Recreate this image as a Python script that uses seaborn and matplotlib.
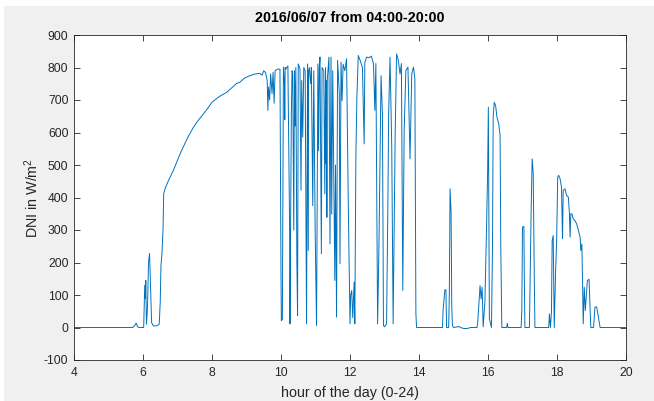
import matplotlib
matplotlib.use("Agg")
import matplotlib.pyplot as plt  # type: ignore
from matplotlib.patches import Rectangle  # type: ignore
import pandas as pd  # type: ignore
import seaborn as sns  # type: ignore

# hour of day (0-24)
hours = [
    4.00, 5.70, 5.76, 5.80, 5.84, 5.88, 6.02, 6.05, 6.07, 6.08, 6.10, 6.13, 6.16, 6.19,
    6.22, 6.25, 6.30, 6.40, 6.47, 6.50, 6.52, 6.55, 6.58, 6.60, 6.65, 6.75, 6.88, 7.00,
    7.12, 7.30, 7.46, 7.60, 7.75, 7.88, 8.00, 8.20, 8.43, 8.60, 8.70, 8.81, 8.95, 9.10,
    9.25, 9.39, 9.45, 9.50, 9.55, 9.60, 9.62, 9.64, 9.67, 9.70, 9.74, 9.77, 9.80, 9.83,
    9.90, 9.97,
    10.00, 10.01, 10.04, 10.06, 10.07, 10.10, 10.11, 10.12, 10.14, 10.20, 10.25, 10.26,
    10.30, 10.32, 10.34, 10.37, 10.39, 10.41, 10.43, 10.46, 10.48, 10.50, 10.55, 10.58,
    10.60, 10.63, 10.66, 10.70, 10.74, 10.77, 10.79, 10.80, 10.82, 10.86, 10.88, 10.92,
    10.95, 10.99, 11.03, 11.07, 11.09, 11.11, 11.13, 11.17, 11.19, 11.24, 11.27, 11.29,
    11.31, 11.32, 11.33, 11.34, 11.39, 11.42, 11.45, 11.47, 11.50, 11.56, 11.58, 11.61,
    11.64, 11.69, 11.71, 11.74, 11.77, 11.80, 11.85, 11.90, 11.95, 12.00, 12.02, 12.05,
    12.08, 12.12, 12.14, 12.17, 12.20, 12.24, 12.30, 12.36, 12.41, 12.43, 12.48, 12.55,
    12.62, 12.68, 12.72, 12.75, 12.80, 12.84, 12.90, 12.94, 12.97, 13.00, 13.06, 13.10,
    13.12, 13.16, 13.21, 13.25, 13.28, 13.31, 13.35, 13.40, 13.45, 13.49, 13.53, 13.57,
    13.62, 13.68, 13.74, 13.79, 13.84, 13.88, 13.91, 13.93,
    14.68, 14.70, 14.75, 14.78, 14.80, 14.86, 14.88, 14.90, 14.93, 14.95, 14.97, 15.00,
    15.17, 15.20, 15.30, 15.40, 15.50, 15.68, 15.70, 15.77, 15.80, 15.83, 15.86, 15.91,
    15.96, 15.99, 16.01, 16.04, 16.10, 16.13, 16.15, 16.18, 16.22, 16.26, 16.31, 16.35,
    16.37, 16.40, 16.54, 16.56, 16.58, 16.96, 16.98, 17.00, 17.04, 17.05, 17.07, 17.20,
    17.22, 17.25, 17.28, 17.31, 17.34, 17.36, 17.76, 17.78, 17.81, 17.84, 17.86, 17.89,
    17.92, 17.96, 17.99, 18.02, 18.05, 18.09, 18.13, 18.16, 18.18, 18.23, 18.28, 18.33,
    18.36, 18.38, 18.40, 18.43, 18.47, 18.52, 18.57, 18.62, 18.67, 18.69, 18.72, 18.74,
    18.76, 18.79, 18.82, 18.84, 18.88, 18.93, 18.96, 18.98, 19.06, 19.08, 19.10, 19.15,
    19.20, 19.25, 20.00,
]

# DNI in W/m^2
dni = [
    0, 0, 6, 14, 3, 0, 0, 130, 90, 145, 10, 60, 200, 228,
    120, 15, 5, 5, 10, 80, 190, 228, 300, 412, 430, 455, 483, 515,
    545, 585, 616, 637, 657, 675, 693, 710, 724, 740, 750, 755, 768, 775,
    780, 782, 776, 790, 785, 760, 668, 740, 700, 780, 720, 785, 690, 790,
    795, 795,
    160, 21, 25, 500, 801, 750, 640, 800, 795, 805, 300, 11,
    657, 790, 780, 300, 790, 620, 800, 200, 37, 811, 795, 422,
    760, 586, 800, 790, 11, 811, 237, 790, 800, 750, 800, 375,
    790, 300, 6, 811, 544, 800, 832, 227, 800, 790, 411, 800,
    503, 760, 339, 760, 832, 257, 832, 349, 790, 145, 500, 32,
    822, 719, 196, 817, 698, 810, 790, 827, 381, 11, 100, 114,
    30, 140, 11, 524, 709, 837, 820, 800, 565, 815, 832, 830,
    835, 812, 668, 812, 11, 257, 775, 657, 6, 2, 11, 400,
    657, 832, 555, 11, 300, 600, 842, 822, 780, 812, 114, 606,
    791, 801, 519, 781, 801, 765, 42, 0,
    0, 57, 116, 116, 0, 0, 109, 427, 355, 62, 5, 0,
    3, 0, -3, -3, 0, 0, 13, 129, 88, 124, 2, 78,
    319, 483, 678, 27, 0, 242, 647, 693, 683, 647, 627, 591,
    257, 0, 0, 13, 0, 0, 52, 309, 311, 181, 0, 0,
    134, 360, 519, 478, 170, 0, 0, 42, 0, 50, 268, 283,
    0, 175, 268, 463, 468, 457, 432, 273, 422, 427, 406, 401,
    350, 278, 350, 350, 334, 329, 319, 298, 278, 237, 257, 145,
    11, 124, 52, 83, 145, 148, 52, 0, 0, 32, 63, 63,
    32, 0, 0,
]

x_ticks = list(range(4, 21, 2))
y_ticks = list(range(-100, 901, 100))

df = pd.DataFrame({"hour": hours, "dni": dni})

sns.set_theme(style="white")
plt.rcParams["font.family"] = ["Liberation Sans", "DejaVu Sans"]
plt.rcParams["mathtext.default"] = "regular"
plt.rcParams["axes.unicode_minus"] = False

axis_col = "#262626"
fig = plt.figure(figsize=(6.54, 4.01), dpi=100, facecolor="#f0f0f0")
# white border of the screenshot (top and left)
fig.add_artist(Rectangle((0, 1 - 6 / 401), 1, 6 / 401, transform=fig.transFigure,
                         facecolor="white", edgecolor="none", zorder=0))
fig.add_artist(Rectangle((0, 0), 4 / 654, 1, transform=fig.transFigure,
                         facecolor="white", edgecolor="none", zorder=0))

ax = fig.add_axes([74 / 654, 1 - 360 / 401, 552 / 654, 325 / 401])
ax.set_facecolor("white")

sns.lineplot(data=df, x="hour", y="dni", ax=ax, color="#0072BD", linewidth=0.7,
             sort=False, estimator=None)

ax.set_xlim(4, 20)
ax.set_ylim(-100, 900)
ax.set_xticks(x_ticks)
ax.set_yticks(y_ticks)
ax.tick_params(direction="in", length=4, width=0.6, colors=axis_col, labelsize=8.7,
               top=True, right=True, bottom=True, left=True, pad=4)
ax.tick_params(axis="x", pad=5)
for side in ax.spines.values():
    side.set_color(axis_col)
    side.set_linewidth(0.6)

ax.set_title("2016/06/07 from 04:00-20:00", fontsize=10.3, fontweight="bold",
             color="black", pad=9)
ax.set_xlabel("hour of the day (0-24)", fontsize=10.3, color=axis_col, labelpad=5)
ax.set_ylabel("DNI in W/m$^2$", fontsize=10.3, color=axis_col, labelpad=2)

fig.savefig("out.png", dpi=100, facecolor=fig.get_facecolor())
